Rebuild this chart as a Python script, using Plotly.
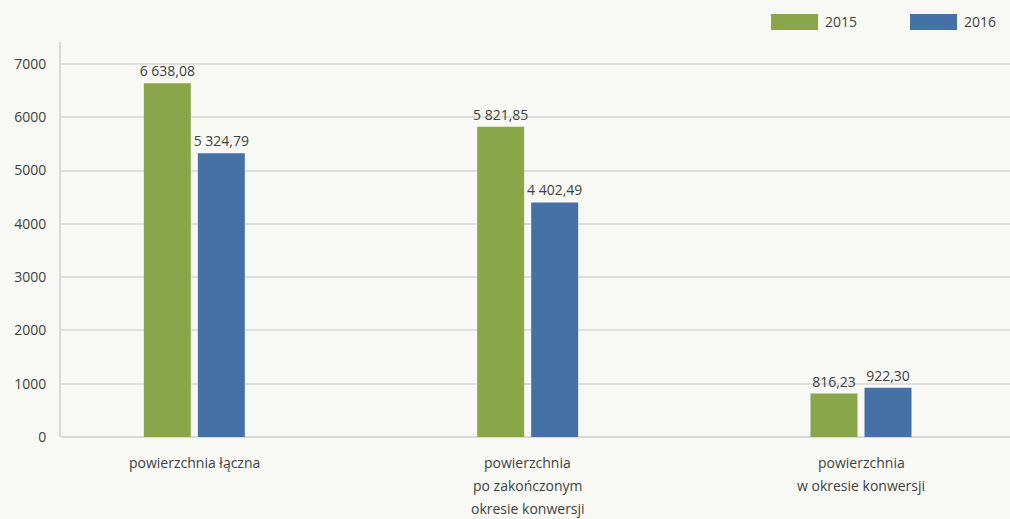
import plotly.graph_objects as go

categories = ["powierzchnia łączna",
              "powierzchnia<br>po zakończonym<br>okresie konwersji",
              "powierzchnia<br>w okresie konwersji"]
series_names = ["2015", "2016"]
values_2015 = [6638.08, 5821.85, 816.23]
values_2016 = [5324.79, 4402.49, 922.30]
colors = ["#8aa64b", "#4671a6"]
y_ticks = [0, 1000, 2000, 3000, 4000, 5000, 6000, 7000]


def fmt(v):
    s = f"{v:,.2f}"
    return s.replace(",", " ").replace(".", ",")


FONT = "Open Sans"
TXT = "#3f3f3f"
BG = "#f8f9f5"

fig = go.Figure()
xs = list(range(len(categories)))
for name, vals, col in zip(series_names, [values_2015, values_2016], colors):
    fig.add_trace(go.Bar(
        x=xs, y=vals, name=name, marker=dict(color=col, line=dict(width=0)),
        text=[fmt(v) for v in vals], textposition="outside",
        constraintext="none",
        textfont=dict(family=FONT, size=14, color=TXT), cliponaxis=False,
        showlegend=False, hoverinfo="skip",
    ))

fig.update_layout(
    width=1010, height=519,
    margin=dict(l=61, r=0, t=42, b=82),
    paper_bgcolor=BG, plot_bgcolor=BG,
    barmode="group", bargap=0.676, bargroupgap=0.13,
    font=dict(family=FONT, size=14, color=TXT),
    xaxis=dict(
        tickmode="array", tickvals=xs, ticktext=["" for _ in xs],
        range=[-0.4, 2.447], showgrid=False, zeroline=False,
        showline=False, ticks="",
    ),
    yaxis=dict(
        range=[0, 7413], tickvals=y_ticks, showgrid=True,
        gridcolor="#dfe0de", gridwidth=1.5, zeroline=True,
        zerolinecolor="#d8d9d7", zerolinewidth=2,
        showline=True, linecolor="#d8d9d7", linewidth=2,
        ticks="", ticklabelstandoff=10,
        tickfont=dict(family=FONT, size=14, color=TXT),
    ),
)

# category labels with wider line spacing
for i, cat in enumerate(categories):
    for k, line in enumerate(cat.split("<br>")):
        fig.add_annotation(xref="x", yref="paper", x=xs[i], y=0,
                           yshift=-25 - 23 * k, text=line, showarrow=False,
                           xanchor="center", yanchor="middle",
                           font=dict(family=FONT, size=14, color=TXT))

# custom legend (wide colour keys)
legend_x = [(771 - 61) / 949, (910 - 61) / 949]
for name, col, lx in zip(series_names, colors, legend_x):
    fig.add_shape(type="rect", xref="paper", yref="paper",
                  x0=lx, x1=lx + 47 / 949, y0=1 + 12 / 395, y1=1 + 28 / 395,
                  fillcolor=col, line=dict(width=0))
    fig.add_annotation(xref="paper", yref="paper", x=lx + 52 / 949, y=1 + 20 / 395,
                       text=name, showarrow=False, xanchor="left", yanchor="middle",
                       font=dict(family=FONT, size=14, color=TXT))

fig.write_html("out.html", config={"displayModeBar": False},
               post_script="document.body.style.margin='0';document.body.style.background='%s';" % BG)
